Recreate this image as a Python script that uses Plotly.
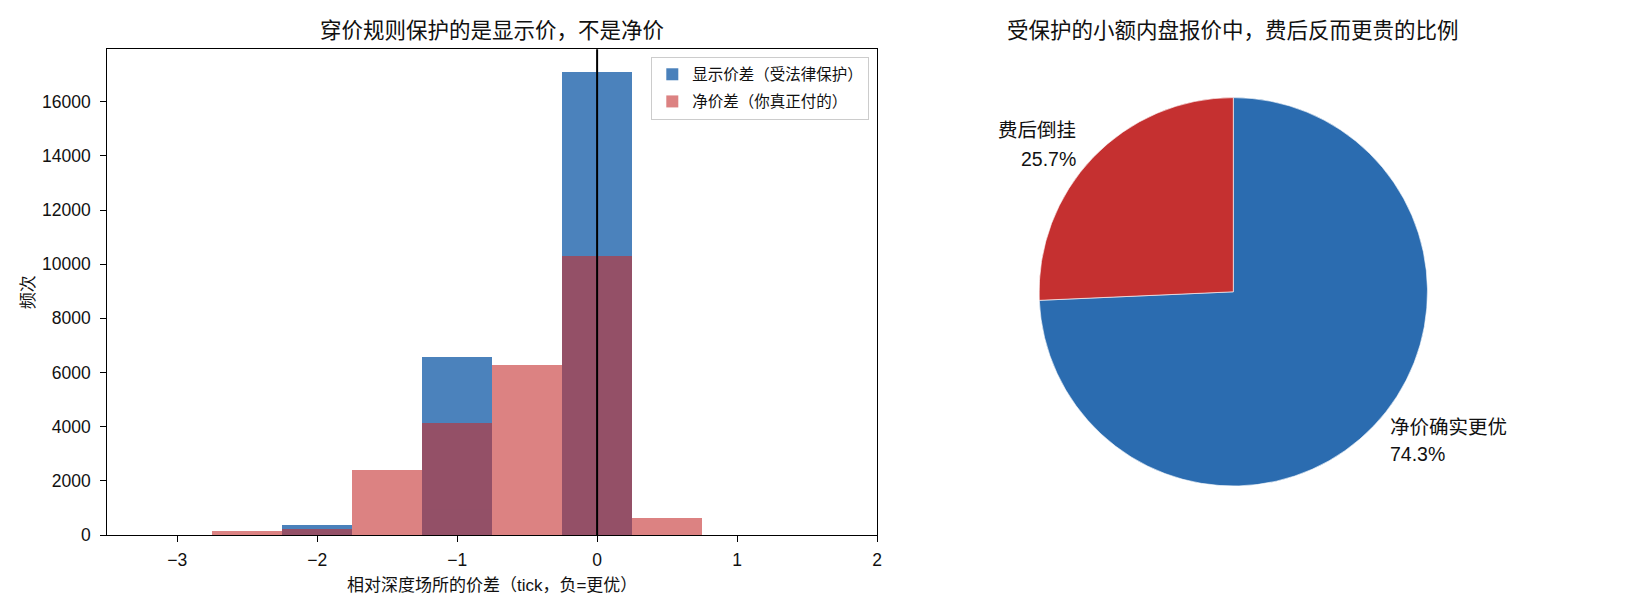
import plotly.graph_objects as go

# ---- data ----
bin_centers = [-2.5, -2.0, -1.5, -1.0, -0.5, 0.0, 0.5]
display_counts = [0, 370, 0, 6580, 0, 17080, 0]
net_counts = [150, 220, 2375, 4110, 6280, 10300, 600]
series_names = ["显示价差（受法律保护）", "净价差（你真正付的）"]

pie_labels = ["净价确实更优", "费后倒挂"]
pie_values = [74.3, 25.7]

x_ticks = [-3, -2, -1, 0, 1, 2]
y_ticks = [0, 2000, 4000, 6000, 8000, 10000, 12000, 14000, 16000]

BLUE = "#2b6cb0"
RED = "#c53030"
FONT = "Liberation Sans, Noto Sans CJK SC, sans-serif"
W, H = 1622, 595


def px(x):
    return x / W


def py(y):
    return 1 - y / H


fig = go.Figure()
fig.add_trace(go.Bar(x=bin_centers, y=display_counts, width=0.5, name=series_names[0],
                     legendgroup="a", marker=dict(color=BLUE, line=dict(width=0)), opacity=0.85))
fig.add_trace(go.Bar(x=bin_centers, y=net_counts, width=0.5, name=series_names[1],
                     legendgroup="b", marker=dict(color=RED, line=dict(width=0)), opacity=0.6))

fig.add_shape(type="line", x0=0, x1=0, y0=0, y1=1, xref="x", yref="y domain",
              line=dict(color="black", width=2))

fig.add_trace(go.Pie(labels=pie_labels, values=pie_values, sort=False,
                     direction="clockwise", rotation=0,
                     marker=dict(colors=[BLUE, RED], line=dict(color="white", width=0.6)),
                     textinfo="none", hoverinfo="label+percent", showlegend=False,
                     domain=dict(x=[px(1031.1), px(1419.5)], y=[py(478.0), py(89.6)])))

# pie labels
lab_font = dict(size=19.5, color="#111", family=FONT)
fig.add_annotation(x=px(1070), y=py(122.5), xref="paper", yref="paper", text=pie_labels[1],
                   showarrow=False, xanchor="right", yanchor="middle", font=lab_font)
fig.add_annotation(x=px(1070), y=py(150.7), xref="paper", yref="paper",
                   text=f"{pie_values[1]:.1f}%", showarrow=False, xanchor="right",
                   yanchor="middle", font=lab_font)
fig.add_annotation(x=px(1380.3), y=py(418.5), xref="paper", yref="paper", text=pie_labels[0],
                   showarrow=False, xanchor="left", yanchor="middle", font=lab_font)
fig.add_annotation(x=px(1380.3), y=py(446), xref="paper", yref="paper",
                   text=f"{pie_values[0]:.1f}%", showarrow=False, xanchor="left",
                   yanchor="middle", font=lab_font)

# titles
title_font = dict(size=21.5, color="#111", family=FONT)
fig.add_annotation(x=px(484.2), y=py(23), xref="paper", yref="paper",
                   text="穿价规则保护的是显示价，不是净价", showarrow=False,
                   xanchor="center", yanchor="middle", font=title_font)
fig.add_annotation(x=px(1225.3), y=py(23), xref="paper", yref="paper",
                   text="受保护的小额内盘报价中，费后反而更贵的比例", showarrow=False,
                   xanchor="center", yanchor="middle", font=title_font)

fig.update_layout(
    width=W, height=H,
    margin=dict(l=0, r=0, t=0, b=0, autoexpand=False),
    paper_bgcolor="white", plot_bgcolor="white",
    barmode="overlay", bargap=0,
    font=dict(family=FONT, size=18, color="#111"),
    xaxis=dict(domain=[px(99.3), px(869)], range=[-3.5, 2], tickvals=x_ticks,
               showgrid=False, zeroline=False, showline=True, linecolor="black", linewidth=1.3,
               mirror=True, ticks="outside", ticklen=6, tickwidth=1.3, tickcolor="black",
               tickfont=dict(size=17.5), ticklabelstandoff=3,
               title=dict(text="相对深度场所的价差（tick，负=更优）", font=dict(size=17),
                          standoff=9)),
    yaxis=dict(domain=[py(527), py(41.3)], range=[0, 17934], tickvals=y_ticks,
               tickformat="d",
               showgrid=False, zeroline=False, showline=True, linecolor="black", linewidth=1.3,
               mirror=True, ticks="outside", ticklen=6, tickwidth=1.3, tickcolor="black",
               tickfont=dict(size=17.5), ticklabelstandoff=6,
               title=dict(text="频次", font=dict(size=17), standoff=3)),
    legend=dict(x=px(861.3), y=py(48.7), xanchor="right", yanchor="top",
                bgcolor="rgba(255,255,255,0.8)", bordercolor="#cccccc", borderwidth=1,
                font=dict(size=15.5), traceorder="grouped", tracegroupgap=4),
)

fig.write_html("out.html")
